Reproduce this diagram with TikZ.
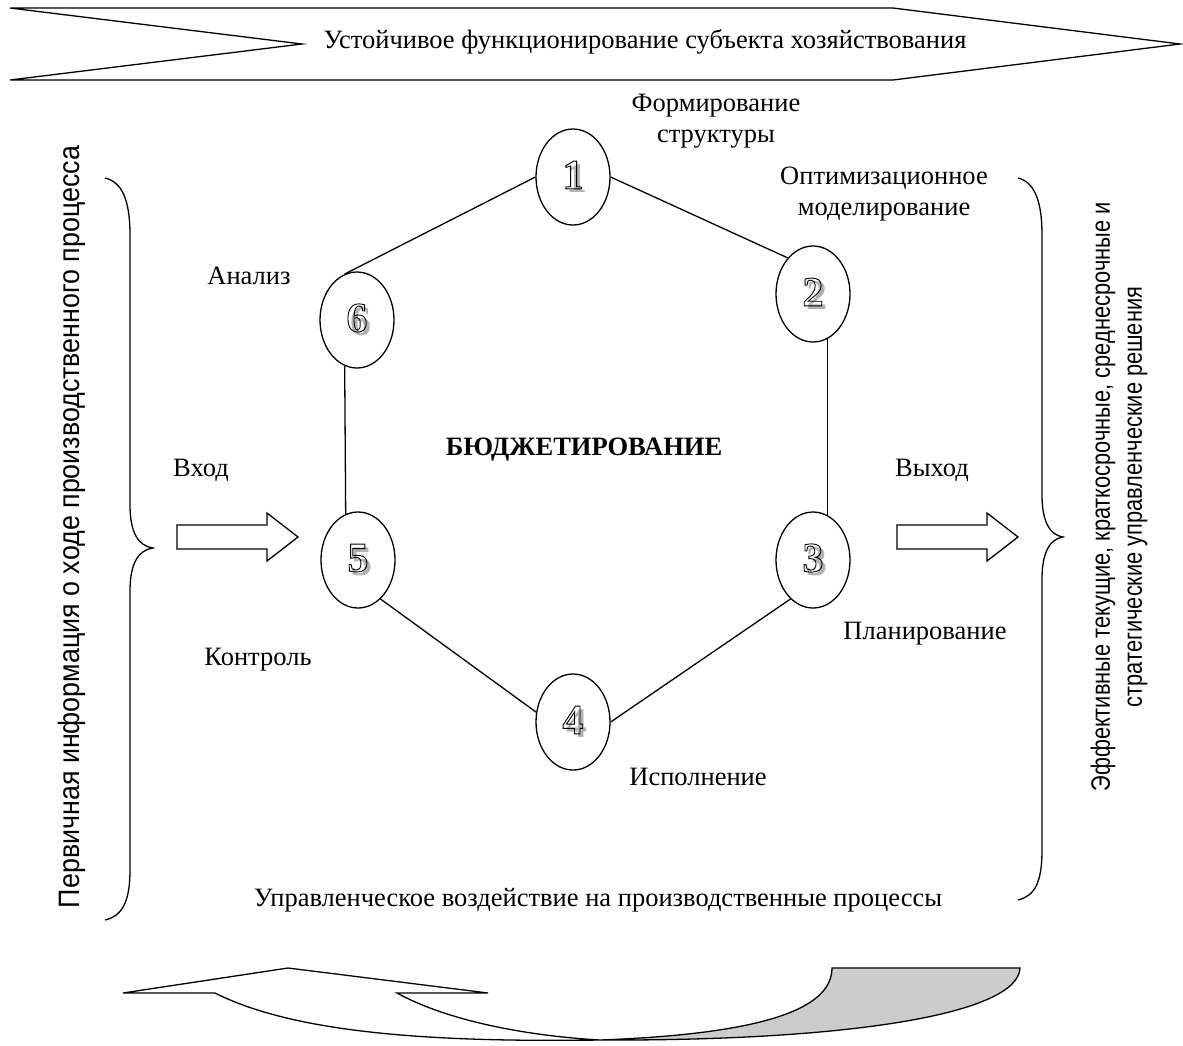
\documentclass[tikz,border=0pt]{standalone}
\usepackage{fontspec}
\setmainfont{Liberation Serif}
\newfontfamily\narrowsans[FakeStretch=0.82]{Liberation Sans}
\newfontfamily\widesans[FakeStretch=0.91]{Liberation Sans}
\usetikzlibrary{shapes.geometric}
\newcommand\hollowdigit[1]{%
  \rlap{\kern4pt\raisebox{-4pt}{\color{gray!60}#1}}%
  \special{pdf:literal direct 1 Tr 0.9 w}#1\special{pdf:literal direct 0 Tr}}
\tikzset{
  stage/.style={draw, ellipse, minimum width=74pt, minimum height=96pt, inner sep=0pt,
    font=\fontsize{42}{44}\selectfont\bfseries},
  txt/.style={font=\fontsize{26.5}{31}\selectfont, align=center, inner sep=0pt},
  side/.style={font=\fontsize{26.6}{32}\selectfont\narrowsans, align=center, inner sep=0pt, rotate=90},
}
\begin{document}
\begin{tikzpicture}[x=1pt,y=-1pt,line width=1.3pt]
  \useasboundingbox (0,0) rectangle (1183,1045);
  % top arrow
  \draw (10,8) -- (893,8) -- (1180,44) -- (893,80) -- (10,80) -- (302,44) -- cycle;
  \node[txt] (goal) at (645,42) {Устойчивое функционирование субъекта хозяйствования};
  % stages
  \node[stage] (c1) at (573,177) {\hollowdigit{1}};
  \node[stage] (c2) at (813,294) {\hollowdigit{2}};
  \node[stage] (c3) at (813,560) {\hollowdigit{3}};
  \node[stage] (c4) at (573,722) {\hollowdigit{4}};
  \node[stage] (c5) at (358,560) {\hollowdigit{5}};
  \node[stage] (c6) at (357,320) {\hollowdigit{6}};
  \draw (c1.west) -- (c6.105);
  \draw (c1.east) -- (c2.125);
  \draw (c2.-72) -- (c3.72);
  \draw (c3.-120) -- (c4.east);
  \draw (c4.165) -- (c5.-60);
  \draw (c5.105) -- (c6.-105);
  \node[txt] (t1) at (716,121) {Формирование\\структуры};
  \node[txt] (t2) at (884,194) {Оптимизационное\\моделирование};
  \node[txt] (t3) at (925,634) {Планирование};
  \node[txt] (t4) at (698,777) {Исполнение};
  \node[txt] (t5) at (258,660) {Контроль};
  \node[txt] (t6) at (249,276) {Анализ};
  \node[txt,font=\fontsize{26.5}{31}\selectfont\bfseries] (core) at (584,450) {БЮДЖЕТИРОВАНИЕ};
  % input and output
  \node[txt] (in) at (201,470) {Вход};
  \node[txt] (out) at (932,470) {Выход};
  \draw (177,525) -- (267,525) -- (267,513) -- (298,537) -- (267,561) -- (267,549) -- (177,549) -- cycle;
  \draw (897,525) -- (987,525) -- (987,513) -- (1018,537) -- (987,561) -- (987,549) -- (897,549) -- cycle;
  % braces
  \draw (105,178) .. controls (122,182) and (130,200) .. (130,235) -- (130,505)
    .. controls (130,532) and (138,546) .. (153,548)
    .. controls (138,550) and (130,564) .. (130,591) -- (130,870)
    .. controls (130,902) and (122,916) .. (105,920);
  \draw (1018,178) .. controls (1034,182) and (1042,200) .. (1042,235) -- (1042,495)
    .. controls (1042,522) and (1050,535) .. (1063,537)
    .. controls (1050,539) and (1042,552) .. (1042,579) -- (1042,850)
    .. controls (1042,884) and (1034,896) .. (1018,900);
  \node[side,font=\fontsize{29.5}{34}\selectfont\widesans] (src) at (72,527) {Первичная информация о ходе производственного процесса};
  \node[side] (res) at (1119,497) {Эффективные текущие, краткосрочные, среднесрочные и\\стратегические управленческие решения};
  \node[txt] (act) at (598,900) {Управленческое воздействие на производственные процессы};
  % bottom curved arrow
  \draw[fill=white] (215,993) -- (123,993) -- (288,968) -- (488,993) -- (397,993)
    .. controls (450,1022) and (530,1036) .. (600,1040)
    .. controls (450,1042) and (300,1036) .. (215,993) -- cycle;
  \draw[fill=gray!40] (600,1040) .. controls (760,1034) and (832,1010) .. (832,968)
    -- (1020,968) .. controls (1018,1014) and (850,1041) .. (600,1040) -- cycle;
\end{tikzpicture}
\end{document}
